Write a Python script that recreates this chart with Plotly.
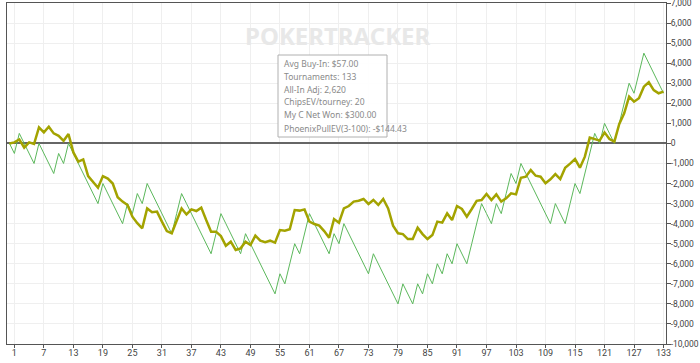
import plotly.graph_objects as go

# Tournament index (0 = start)
tournaments = list(range(0, 134))

# Net won (green, thin)
net_won = [
    0, -500, 500, 0, -500, -1000, 0, -500, -1000, -1500,
    -500, -1000, 0, -500, -1000, -1500, -2000, -2500, -3000, -2000,
    -2500, -3000, -3500, -4000, -3000, -3500, -2500, -3000, -2000, -2500,
    -3000, -3500, -4000, -4500, -3500, -2500, -3000, -3500, -4000, -4500,
    -5000, -5500, -4500, -3500, -4000, -4500, -5000, -5500, -4500, -5000,
    -5500, -6000, -6500, -7000, -7500, -6500, -7000, -6000, -5000, -5500,
    -4500, -3500, -4000, -4500, -5000, -5500, -4500, -5000, -4000, -4500,
    -5000, -5500, -6000, -6500, -5500, -6000, -6500, -7000, -7500, -8000,
    -7000, -7500, -8000, -7000, -7500, -6500, -7000, -6000, -6500, -5500,
    -6000, -5000, -5500, -6000, -5000, -4000, -3000, -3500, -4000, -3000,
    -3500, -2500, -1500, -2000, -1000, -1500, -2000, -2500, -3000, -3500,
    -4000, -3000, -3500, -4000, -3000, -2000, -2500, -1500, -500, 500,
    0, 1000, 500, 0, 1000, 2000, 3000, 2500, 3500, 4500,
    4000, 3500, 3000, 2500,
]

# All-in adjusted (olive, thick)
allin_adj = [
    0, 50, 200, -210, 50, -30, 800, 550, 830, 500,
    380, 130, 470, -450, -910, -800, -1630, -1910, -2210, -1630,
    -1750, -2000, -2680, -2900, -3070, -3650, -3980, -4230, -3240, -3430,
    -3400, -3900, -4370, -4480, -3820, -3240, -3540, -3290, -3370, -3200,
    -3820, -4400, -4400, -4620, -5100, -4900, -5310, -5230, -4900, -5065,
    -4600, -4850, -4930, -4850, -4950, -4320, -4350, -4280, -3320, -3350,
    -3290, -3900, -4020, -4100, -4370, -4700, -3770, -3950, -3240, -3120,
    -2900, -2860, -2770, -3020, -2820, -3070, -2770, -3240, -4100, -4480,
    -4520, -4770, -4770, -4200, -4520, -4770, -4570, -3900, -3950, -3490,
    -3820, -3120, -3270, -3650, -3270, -2860, -2820, -2520, -2820, -2540,
    -2900, -2740, -2490, -2540, -1710, -1660, -1330, -1610, -1660, -1990,
    -1790, -1530, -1775, -1210, -1010, -780, -1210, -660, 290, 220,
    140, 550, 220, 90, 970, 1500, 2330, 2080, 2250, 2830,
    3050, 2660, 2500, 2580,
]

x_tickvals = list(range(1, 134, 6))
y_tickvals = list(range(-10000, 7001, 1000))
y_ticktext = [("-" if v < 0 else "") + f"{abs(v):,}" for v in y_tickvals]

info_lines = [
    "Avg Buy-In: $57.00",
    "Tournaments: 133",
    "All-In Adj: 2,620",
    "ChipsEV/tourney: 20",
    "My C Net Won: $300.00",
    "PhoenixPullEV(3-100): -$144.43",
]

fig = go.Figure()
fig.add_trace(go.Scatter(x=tournaments, y=net_won, mode="lines",
                         line=dict(color="#5cb85c", width=1), showlegend=False))
fig.add_trace(go.Scatter(x=tournaments, y=allin_adj, mode="lines",
                         line=dict(color="#a3a300", width=2.5), showlegend=False))

W, H = 700, 363
ml, mr, mt, mb = 7, 34, 3, 19
pw, ph = W - ml - mr, H - mt - mb

def px2paper(xp, yp):
    return (xp - ml) / pw, 1 - (yp - mt) / ph

annotations = []
# watermark
wx, wy = px2paper(338, 35)
annotations.append(dict(text="<b>POKERTRACKER</b>", x=wx, y=wy, xref="paper", yref="paper",
                        showarrow=False, font=dict(family="Noto Sans", size=24, color="#e8e8e8"),
                        xanchor="center", yanchor="middle"))
# info box lines
for i, line in enumerate(info_lines):
    lx, ly = px2paper(282, 63 + 13 * i)
    annotations.append(dict(text=line, x=lx, y=ly, xref="paper", yref="paper",
                            showarrow=False, xanchor="left", yanchor="middle",
                            font=dict(family="Noto Sans", size=8.5, color="#8a8a8a")))
# x axis title (mostly clipped, as in the reference)
tx, ty = px2paper(337, 358)
annotations.append(dict(text="Tournaments Played", x=tx, y=ty, xref="paper", yref="paper",
                        showarrow=False, xanchor="center", yanchor="top",
                        font=dict(family="Noto Sans", size=9, color="#333")))

x0, y0 = px2paper(278, 55)
x1, y1 = px2paper(387, 137)
shapes = [dict(type="rect", xref="paper", yref="paper", x0=x0, y0=y0, x1=x1, y1=y1,
               line=dict(color="#b0b0b0", width=1), fillcolor="rgba(255,255,255,0.9)",
               layer="above")]

fig.update_layout(
    width=W, height=H,
    margin=dict(l=ml, r=mr, t=mt, b=mb),
    paper_bgcolor="white", plot_bgcolor="white",
    annotations=annotations, shapes=shapes,
    xaxis=dict(range=[-0.5, 133.5], tickvals=x_tickvals, showgrid=True,
               gridcolor="#efefef", gridwidth=1, ticks="outside", ticklen=3,
               tickcolor="#555", showline=True, linecolor="#555", linewidth=1,
               mirror=True, zeroline=False, automargin=False,
               ticklabelstandoff=-3, ticklabeloverflow="allow",
               tickfont=dict(family="Roboto", size=9, color="#444")),
    yaxis=dict(range=[-10000, 7000], tickvals=y_tickvals, ticktext=y_ticktext,
               side="right", showgrid=True, gridcolor="#efefef", gridwidth=1,
               ticks="outside", ticklen=4, tickcolor="#555",
               showline=True, linecolor="#555", linewidth=1, mirror=True,
               zeroline=True, zerolinecolor="#666", zerolinewidth=1.5,
               automargin=False, ticklabelstandoff=-2, ticklabeloverflow="allow",
               tickfont=dict(family="Roboto", size=8.5, color="#444")),
)

fig.write_html("out.html", config={"displayModeBar": False},
               post_script="document.body.style.margin='0';document.body.style.overflow='hidden';")
